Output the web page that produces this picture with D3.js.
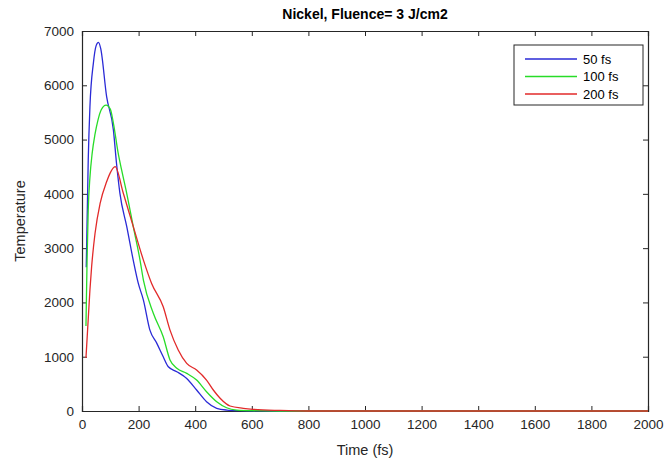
<!DOCTYPE html>
<html>
<head>
<meta charset="utf-8">
<script src="https://cdn.jsdelivr.net/npm/d3@7"></script>
<style>
  body { margin: 0; background: #fff; }
  svg { display: block; }
</style>
</head>
<body>
<div id="chart"></div>
<script>
// Time (fs) and temperature for each pulse duration
const time50 = [15, 22, 28, 40, 50, 58, 66, 87, 111, 122, 134, 158, 181, 199, 217, 240, 264, 287, 305, 335, 370, 405, 440, 476, 511, 560, 600, 700, 800, 1000, 1200, 1400, 1600, 1800, 2000];
const temp50 = [2650, 4620, 5600, 6400, 6730, 6790, 6680, 5790, 5175, 4560, 4010, 3400, 2780, 2350, 2044, 1490, 1250, 1000, 815, 724, 600, 387, 171, 50, 18, 6, 3, 0, 0, 0, 0, 0, 0, 0, 0];

const time100 = [14, 18, 22, 28, 36, 46, 56, 68, 85, 100, 111, 128, 140, 158, 181, 205, 217, 252, 287, 311, 335, 370, 405, 440, 476, 511, 547, 600, 700, 800, 1000, 1200, 1400, 1600, 1800, 2000];
const temp100 = [1565, 2800, 3700, 4300, 4750, 5100, 5350, 5550, 5635, 5560, 5300, 4745, 4440, 4010, 3400, 2780, 2412, 1800, 1368, 940, 786, 694, 570, 355, 171, 60, 18, 6, 0, 0, 0, 0, 0, 0, 0, 0];

const time200 = [14, 28, 34, 46, 64, 87, 99, 117, 146, 181, 217, 246, 287, 311, 340, 370, 405, 440, 464, 488, 523, 570, 605, 700, 800, 1000, 1200, 1400, 1600, 1800, 2000];
const temp200 = [976, 2228, 2657, 3270, 3823, 4223, 4377, 4500, 4010, 3400, 2780, 2350, 1920, 1490, 1125, 877, 755, 570, 387, 234, 92, 50, 31, 10, 0, 0, 0, 0, 0, 0, 0];

const seriesNames = ["50 fs", "100 fs", "200 fs"];
const seriesColors = ["#2a2ad6", "#28dc28", "#e22a2a"];
const xTicks = [0, 200, 400, 600, 800, 1000, 1200, 1400, 1600, 1800, 2000];
const yTicks = [0, 1000, 2000, 3000, 4000, 5000, 6000, 7000];

const width = 665, height = 462;
const margin = { top: 31, right: 17, bottom: 51, left: 82 };

const svg = d3.select("#chart").append("svg")
    .attr("width", width)
    .attr("height", height)
    .style("font-family", "Liberation Sans, Arial, sans-serif");

const x = d3.scaleLinear().domain([0, 2000]).range([margin.left, width - margin.right]);
const y = d3.scaleLinear().domain([0, 7000]).range([height - margin.bottom, margin.top]);

const axisColor = "#262626";
const tickLen = 5;

// axes (MATLAB style, ticks pointing inward, box all round)
const xAxis = svg.append("g")
    .attr("transform", `translate(0,${y(0)})`)
    .call(d3.axisBottom(x).tickValues(xTicks).tickSize(-tickLen).tickPadding(8).tickFormat(d3.format("d")));
const xAxisTop = svg.append("g")
    .attr("transform", `translate(0,${y(7000)})`)
    .call(d3.axisTop(x).tickValues(xTicks).tickSize(-tickLen).tickFormat(""));
const yAxis = svg.append("g")
    .attr("transform", `translate(${x(0)},0)`)
    .call(d3.axisLeft(y).tickValues(yTicks).tickSize(-tickLen).tickPadding(8).tickFormat(d3.format("d")));
const yAxisRight = svg.append("g")
    .attr("transform", `translate(${x(2000)},0)`)
    .call(d3.axisRight(y).tickValues(yTicks).tickSize(-tickLen).tickFormat(""));

[xAxis, xAxisTop, yAxis, yAxisRight].forEach(g => {
    g.select(".domain").attr("stroke", axisColor).attr("stroke-width", 1.2);
    g.selectAll(".tick line").attr("stroke", axisColor);
    g.selectAll(".tick text").attr("fill", axisColor).style("font-size", "13.5px");
});

// lines
const line = d3.line()
    .x(d => x(d[0]))
    .y(d => y(d[1]))
    .curve(d3.curveMonotoneX);
const series = [
    d3.zip(time50, temp50),
    d3.zip(time100, temp100),
    d3.zip(time200, temp200)
];

svg.append("g").selectAll("path")
    .data(series)
    .join("path")
    .attr("fill", "none")
    .attr("stroke", (d, i) => seriesColors[i])
    .attr("stroke-width", 1.3)
    .attr("d", line);

// title and axis labels
svg.append("text")
    .attr("x", (x(0) + x(2000)) / 2)
    .attr("y", 19)
    .attr("text-anchor", "middle")
    .attr("font-weight", "bold")
    .attr("fill", "#000")
    .style("font-size", "14px")
    .text("Nickel, Fluence= 3 J/cm2");

svg.append("text")
    .attr("x", (x(0) + x(2000)) / 2)
    .attr("y", 455)
    .attr("text-anchor", "middle")
    .attr("fill", axisColor)
    .style("font-size", "14.5px")
    .text("Time (fs)");

svg.append("text")
    .attr("transform", `translate(25,${(y(0) + y(7000)) / 2}) rotate(-90)`)
    .attr("text-anchor", "middle")
    .attr("fill", axisColor)
    .style("font-size", "14.5px")
    .text("Temperature");

// legend
const legend = svg.append("g").attr("transform", "translate(514,45)");
legend.append("rect")
    .attr("width", 129)
    .attr("height", 60)
    .attr("fill", "#fff")
    .attr("stroke", axisColor)
    .attr("stroke-width", 1);

const rows = legend.selectAll("g.row")
    .data(seriesNames)
    .join("g")
    .attr("class", "row")
    .attr("transform", (d, i) => `translate(0,${14 + i * 17.5})`);
rows.append("line")
    .attr("x1", 11).attr("x2", 63)
    .attr("stroke", (d, i) => seriesColors[i])
    .attr("stroke-width", 1.3);
rows.append("text")
    .attr("x", 69)
    .attr("dy", "0.35em")
    .attr("fill", "#000")
    .style("font-size", "13px")
    .text(d => d);
</script>
</body>
</html>
